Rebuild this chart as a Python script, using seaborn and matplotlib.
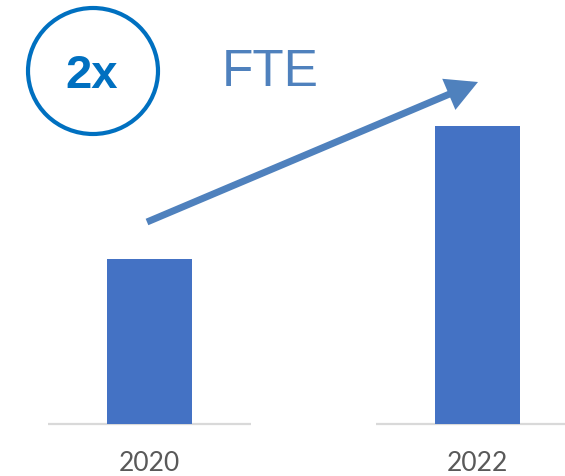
import matplotlib
matplotlib.use("Agg")
import matplotlib.pyplot as plt
import seaborn as sns
import pandas as pd
from matplotlib.patches import Ellipse

years = ["2020", "2022"]
fte = [1.0, 1.81]
badge_text = "2x"
title_text = "FTE"

sns.set_theme(style="white")
plt.rcParams["font.family"] = ["Lato", "DejaVu Sans"]

W, H, DPI = 565, 477, 100
fig = plt.figure(figsize=(W / DPI, H / DPI), dpi=DPI)
base_px = 424.5
ax = fig.add_axes([0, (H - base_px) / H, 1, base_px / H])

df = pd.DataFrame({"year": years, "fte": fte})
sns.barplot(data=df, x="year", y="fte", color="#4472C4", saturation=1,
            width=0.26, ax=ax, edgecolor="none")

px_per_cat = 327.7
ax.set_xlim(-149.5 / px_per_cat, (W - 149.5) / px_per_cat)
px_per_unit = (base_px - 260) / fte[0]
ax.set_ylim(0, base_px / px_per_unit)

for i in range(len(years)):
    ax.hlines(0, i - 0.31, i + 0.31, color="#D9D9D9", lw=1.6, clip_on=False, zorder=0)

ax.set_xlabel("")
ax.set_ylabel("")
ax.set_yticks([])
ax.tick_params(axis="x", length=0, pad=19, labelsize=19, labelcolor="#595959")
for s in ax.spines.values():
    s.set_visible(False)

# badge circle
circ = Ellipse((93 / DPI, (H - 72) / DPI), width=130 / DPI, height=126 / DPI,
               transform=fig.dpi_scale_trans, fill=False, edgecolor="#0070C0", lw=3)
fig.add_artist(circ)
fig.text(92 / W, 1 - 76 / H, badge_text, ha="center", va="center", fontsize=34,
         fontweight="bold", color="#0070C0", family=["Liberation Sans", "DejaVu Sans"])
fig.text(222 / W, 1 - 72 / H, title_text, ha="left", va="center", fontsize=37,
         color="#4F81BD", family=["Liberation Sans", "DejaVu Sans"])

ax.annotate("", xy=(478, H - 83), xytext=(147, H - 223),
            xycoords="figure pixels", textcoords="figure pixels",
            arrowprops=dict(arrowstyle="-|>,head_length=0.75,head_width=0.4",
                            mutation_scale=20, lw=5, color="#4F81BD",
                            shrinkA=0, shrinkB=0, joinstyle="miter", capstyle="butt"))

fig.savefig("out.png", dpi=DPI)
